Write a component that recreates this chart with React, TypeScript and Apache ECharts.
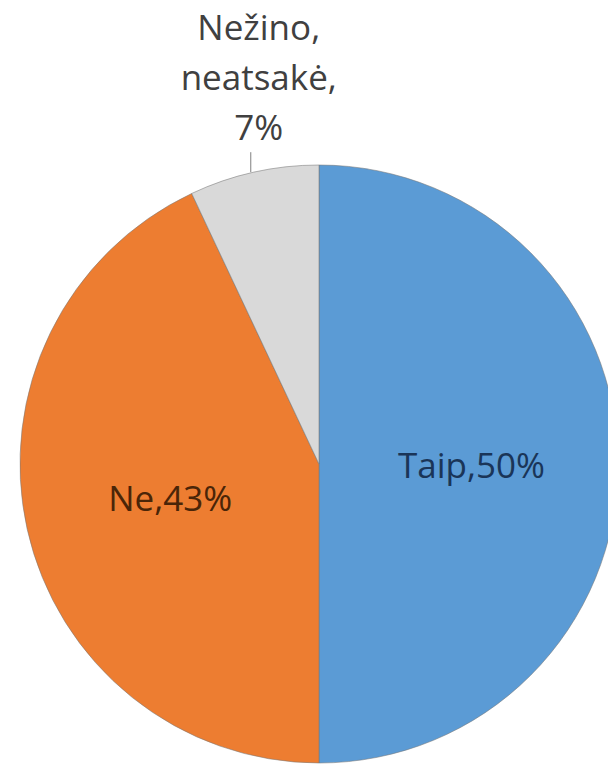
import React, { useEffect, useRef } from "react";
import * as echarts from "echarts";

const categories = ["Taip", "Ne", "Nežino,\nneatsakė"];
const values = [50, 43, 7];
const colors = ["#5B9BD5", "#ED7D31", "#D9D9D9"];
const labelColors = ["#1a3558", "#4a2508", "#404040"];

export default function App() {
  const ref = useRef<HTMLDivElement>(null);
  useEffect(() => {
    if (!ref.current) return;
    const chart = echarts.init(ref.current, undefined, { renderer: "svg" });
    const data = categories.map((name, i) => ({
      name,
      value: values[i],
      itemStyle: { color: colors[i] },
      label:
        i === 2
          ? {
              position: "outside" as const,
              color: labelColors[i],
              lineHeight: 50,
              align: "center" as const,
              formatter: (p: any) => `${p.name},\n${p.value}%`,
            }
          : {
              position: "inside" as const,
              color: labelColors[i],
              formatter: (p: any) => `${p.name},${p.value}%`,
            },
      labelLine: i === 2 ? { show: true, length: 18, length2: 0, lineStyle: { color: "#7f7f7f", width: 1 } } : { show: false },
    }));
    chart.setOption({
      animation: false,
      backgroundColor: "#ffffff",
      series: [
        {
          type: "pie",
          center: [319, 464],
          radius: 299,
          startAngle: 90,
          clockwise: true,
          data,
          itemStyle: { borderColor: "rgba(120,120,120,0.55)", borderWidth: 1 },
          label: {
            show: true,
            fontFamily: "Open Sans",
            fontSize: 35,
          },
          labelLayout: (params: any) => {
            if (params.dataIndex !== 2) return {};
            const pts = params.labelLinePoints;
            if (!pts) return {};
            const p = pts[0];
            const top = p[1] - 20;
            return {
              x: p[0] + 5,
              y: top - 1,
              align: "center",
              verticalAlign: "bottom",
              labelLinePoints: [
                [p[0] - 3, p[1]],
                [p[0] - 3, top],
                [p[0] - 3, top],
              ],
            };
          },
        },
      ],
    });
    return () => chart.dispose();
  }, []);
  return (
    <div
      ref={ref}
      style={{ position: "fixed", left: 0, top: 0, width: 608, height: 766 }}
    />
  );
}
